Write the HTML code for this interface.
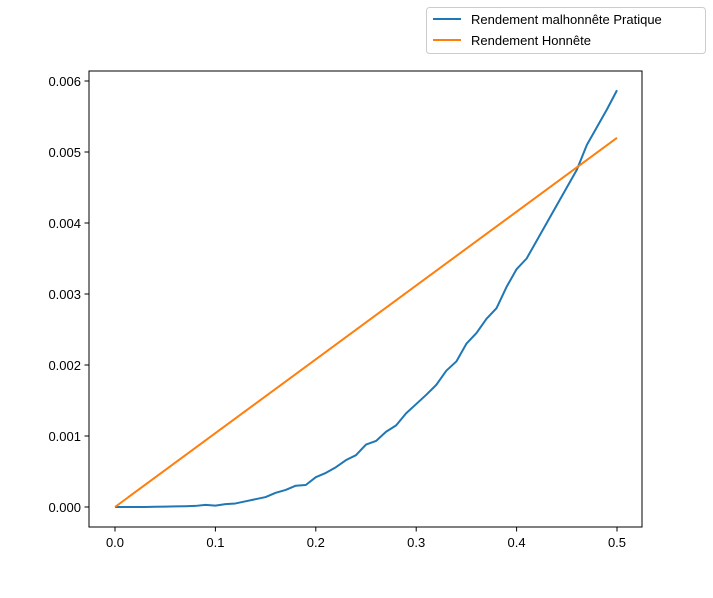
<!DOCTYPE html>
<html><head><meta charset="utf-8"><style>
body{margin:0;background:#fff;}
svg text{font-family:"Liberation Sans","DejaVu Sans",sans-serif;font-size:13px;fill:#000;}
</style></head><body>
<svg id="chart" width="713" height="593">
<rect x="89" y="71" width="553" height="456" fill="none" stroke="#000" stroke-width="1"/>
<g id="xticks"></g>
<g id="yticks"></g>
<g id="series"></g>
<g>
<rect x="426.5" y="7.5" width="279" height="46" rx="3" fill="#fff" stroke="#ccc"/>
<line x1="433" y1="19" x2="461" y2="19" stroke="#1f77b4" stroke-width="2"/>
<text x="471" y="24">Rendement malhonnête Pratique</text>
<line x1="433" y1="40" x2="461" y2="40" stroke="#ff7f0e" stroke-width="2"/>
<text x="471" y="45">Rendement Honnête</text>
</g>
</svg>
<script>
const xValues=[0,.01,.02,.03,.04,.05,.06,.07,.08,.09,.10,.11,.12,.13,.14,.15,.16,.17,.18,.19,.20,.21,.22,.23,.24,.25,.26,.27,.28,.29,.30,.31,.32,.33,.34,.35,.36,.37,.38,.39,.40,.41,.42,.43,.44,.45,.46,.47,.48,.49,.50];
const pratique=[0,0,0,0,0.000003,0.000005,0.000008,0.00001,0.000015,0.00003,0.00002,0.00004,0.00005,0.00008,0.00011,0.00014,0.0002,0.00024,0.0003,0.00031,0.00042,0.00048,0.00056,0.00066,0.00073,0.00088,0.00093,0.00106,0.00115,0.00132,0.00145,0.00158,0.00172,0.00192,0.00205,0.0023,0.00245,0.00265,0.0028,0.0031,0.00335,0.0035,0.00375,0.004,0.00425,0.0045,0.00475,0.0051,0.00535,0.0056,0.00587];
const honnete=[0,0.0052];
const honneteX=[0,0.5];
const xTicks=[0,0.1,0.2,0.3,0.4,0.5];
const xTickLabels=["0.0","0.1","0.2","0.3","0.4","0.5"];
const yTicks=[0,0.001,0.002,0.003,0.004,0.005,0.006];
const yTickLabels=["0.000","0.001","0.002","0.003","0.004","0.005","0.006"];

const NS="http://www.w3.org/2000/svg";
const sx=v=>115+v*1004;
const sy=v=>507-v*71000;
function mk(tag,attrs,parent){const e=document.createElementNS(NS,tag);for(const k in attrs)e.setAttribute(k,attrs[k]);parent.appendChild(e);return e;}
const xg=document.getElementById('xticks'),yg=document.getElementById('yticks'),sg=document.getElementById('series');
xTicks.forEach((t,i)=>{
 const l=mk('line',{x1:sx(t),x2:sx(t),y1:527,y2:531.5,stroke:'#000'},xg);
 
 
 const tx=mk('text',{x:sx(t),y:547,'text-anchor':'middle'},xg);tx.textContent=xTickLabels[i];
 
 
});
yTicks.forEach((t,i)=>{
 const l=mk('line',{x1:84.5,x2:89,y1:sy(t),y2:sy(t),stroke:'#000'},yg);
 
 
 const tx=mk('text',{x:81,y:sy(t)+5,'text-anchor':'end'},yg);tx.textContent=yTickLabels[i];
 
 
});
const p1=mk('polyline',{points:xValues.map((x,i)=>sx(x)+','+sy(pratique[i])).join(' '),fill:'none',stroke:'#1f77b4','stroke-width':2,'stroke-linejoin':'round'},sg);


const p2=mk('polyline',{points:honneteX.map((x,i)=>sx(x)+','+sy(honnete[i])).join(' '),fill:'none',stroke:'#ff7f0e','stroke-width':2},sg);


</script>
</body></html>
